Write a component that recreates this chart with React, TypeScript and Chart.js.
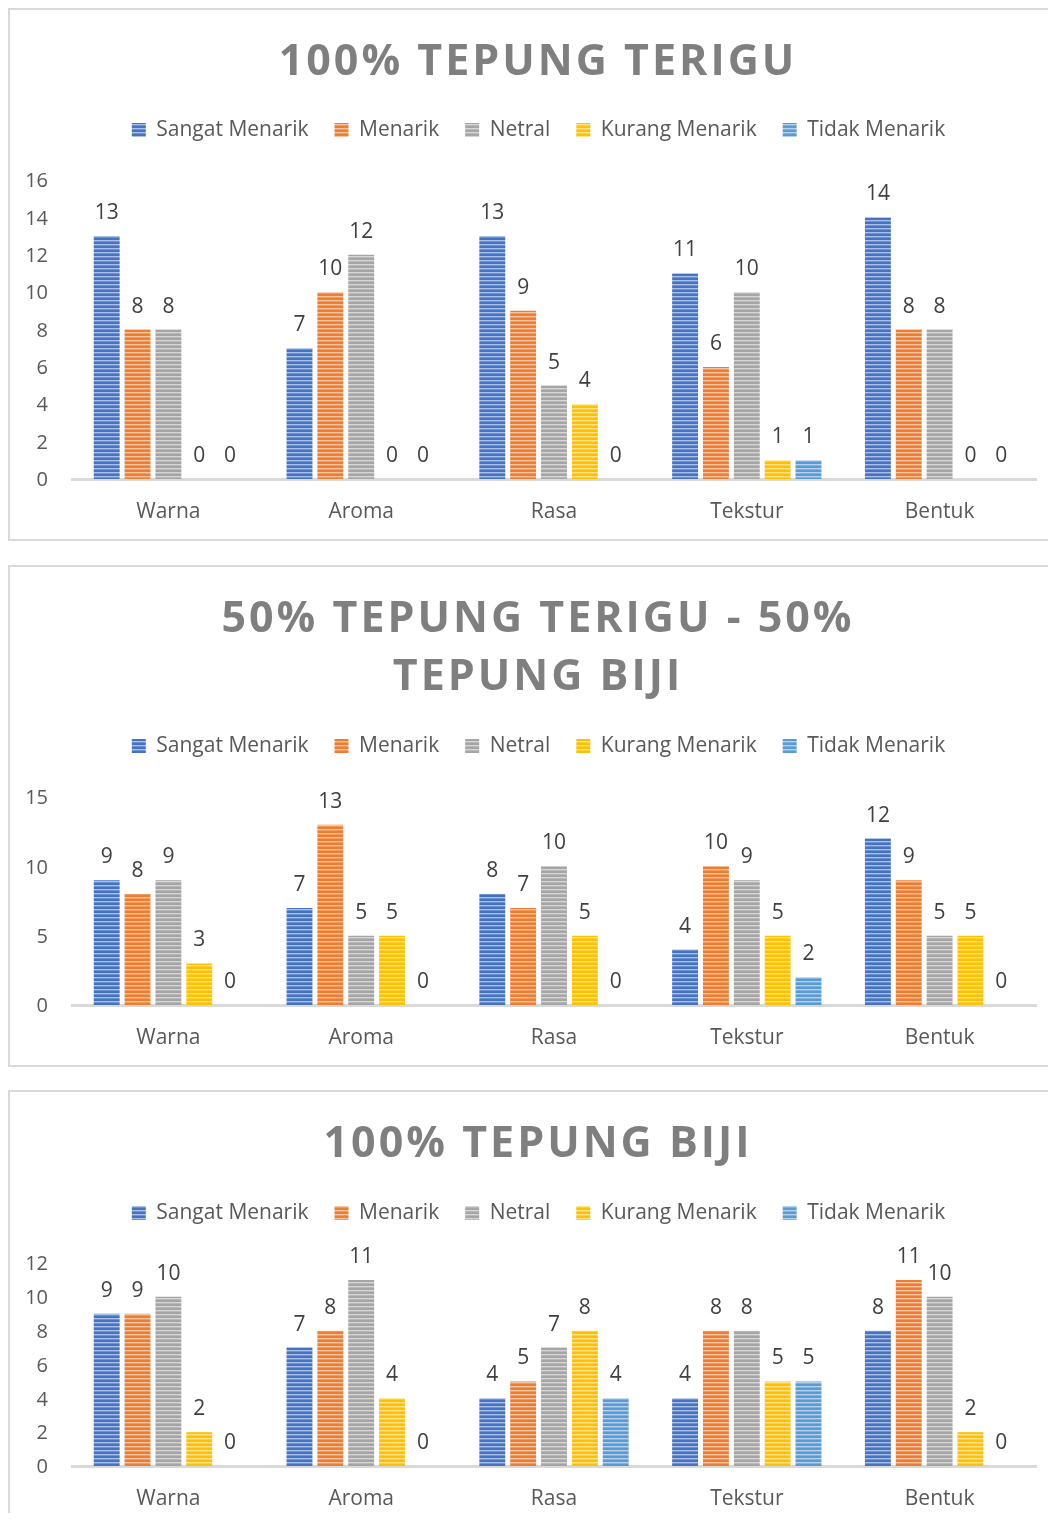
import React, { useEffect, useRef } from 'react';
import { Chart, registerables } from 'chart.js';

Chart.register(...registerables);

const FONT = "'Open Sans', sans-serif";

const CATEGORIES = ['Warna', 'Aroma', 'Rasa', 'Tekstur', 'Bentuk'];
const SERIES_NAMES = ['Sangat Menarik', 'Menarik', 'Netral', 'Kurang Menarik', 'Tidak Menarik'];
const SERIES_COLORS = ['#4472C4', '#ED7D31', '#A5A5A5', '#FFC000', '#5B9BD5'];

// Chart 1: 100% Tepung Terigu
const TITLE_1 = ['100% TEPUNG TERIGU'];
const T1_SANGAT = [13, 7, 13, 11, 14];
const T1_MENARIK = [8, 10, 9, 6, 8];
const T1_NETRAL = [8, 12, 5, 10, 8];
const T1_KURANG = [0, 0, 4, 1, 0];
const T1_TIDAK = [0, 0, 0, 1, 0];
const T1_Y_MAX = 16;
const T1_Y_STEP = 2;

// Chart 2: 50% Tepung Terigu - 50% Tepung Biji
const TITLE_2 = ['50% TEPUNG TERIGU - 50%', 'TEPUNG BIJI'];
const T2_SANGAT = [9, 7, 8, 4, 12];
const T2_MENARIK = [8, 13, 7, 10, 9];
const T2_NETRAL = [9, 5, 10, 9, 5];
const T2_KURANG = [3, 5, 5, 5, 5];
const T2_TIDAK = [0, 0, 0, 2, 0];
const T2_Y_MAX = 15;
const T2_Y_STEP = 5;

// Chart 3: 100% Tepung Biji
const TITLE_3 = ['100% TEPUNG BIJI'];
const T3_SANGAT = [9, 7, 4, 4, 8];
const T3_MENARIK = [9, 8, 5, 8, 11];
const T3_NETRAL = [10, 11, 7, 8, 10];
const T3_KURANG = [2, 4, 8, 5, 2];
const T3_TIDAK = [0, 0, 4, 5, 0];
const T3_Y_MAX = 12;
const T3_Y_STEP = 2;

function stripePattern(color: string): CanvasPattern | string {
  const c = document.createElement('canvas');
  c.width = 4;
  c.height = 4;
  const x = c.getContext('2d');
  if (!x) return color;
  x.fillStyle = color;
  x.fillRect(0, 0, 4, 4);
  x.fillStyle = 'rgba(255,255,255,0.55)';
  x.fillRect(0, 2, 4, 1);
  x.fillStyle = 'rgba(255,255,255,0.22)';
  x.fillRect(0, 3, 4, 1);
  return x.createPattern(c, 'repeat') || color;
}

const valueLabels = {
  id: 'valueLabels',
  afterDatasetsDraw(chart: any) {
    const ctx = chart.ctx;
    ctx.save();
    ctx.font = `21px ${FONT}`;
    ctx.fillStyle = '#404040';
    ctx.textAlign = 'center';
    ctx.textBaseline = 'alphabetic';
    chart.data.datasets.forEach((ds: any, i: number) => {
      const meta = chart.getDatasetMeta(i);
      meta.data.forEach((bar: any, j: number) => {
        ctx.fillText(String(ds.data[j]), bar.x, bar.y - 17);
      });
    });
    ctx.restore();
  },
};

// centre the legend over the same span as the reference (slightly right of canvas centre)
const legendShift = {
  id: 'legendShift',
  afterLayout(chart: any) {
    const l = chart.legend;
    if (l) {
      l.left += 15.5;
      l.right += 15.5;
    }
  },
};

interface Cfg {
  series: number[][];
  yMax: number;
  yStep: number;
  padTop: number;
  spacer: number;
}

function buildConfig(cfg: Cfg): any {
  return {
    type: 'bar',
    data: {
      labels: CATEGORIES,
      datasets: cfg.series.map((d, i) => ({
        label: SERIES_NAMES[i],
        data: d,
        backgroundColor: stripePattern(SERIES_COLORS[i]),
        borderWidth: 0,
        categoryPercentage: 0.8,
        barPercentage: 0.84,
      })),
    },
    options: {
      animation: false,
      responsive: false,
      layout: { padding: { top: cfg.padTop, right: 30, bottom: 0, left: 0 } },
      plugins: {
        legend: {
          position: 'top',
          labels: {
            boxWidth: 14,
            boxHeight: 14,
            padding: 26,
            color: '#595959',
            font: { family: FONT, size: 21 },
          },
        },
        subtitle: {
          display: true,
          text: '',
          weight: 500,
          font: { size: 10, lineHeight: 1 },
          padding: { top: 0, bottom: cfg.spacer },
        },
        title: { display: false },
        tooltip: { enabled: false },
      },
      scales: {
        x: {
          grid: { display: false, drawTicks: false },
          border: { display: true, color: '#d9d9d9', width: 3 },
          ticks: { color: '#595959', font: { family: FONT, size: 21 }, padding: 20 },
          afterFit: (s: any) => {
            s.height = 60;
          },
        },
        y: {
          min: 0,
          max: cfg.yMax,
          ticks: {
            stepSize: cfg.yStep,
            color: '#595959',
            font: { family: FONT, size: 20 },
            padding: 24,
            labelOffset: 1.5,
          },
          grid: { display: false, drawTicks: false },
          border: { display: false },
          afterFit: (s: any) => {
            s.width = 62;
          },
        },
      },
    },
    plugins: [valueLabels, legendShift],
  };
}

function ChartBox({ title, cfg, height, marginTop }: { title: string[]; cfg: Cfg; height: number; marginTop: number }) {
  const ref = useRef<HTMLCanvasElement>(null);
  useEffect(() => {
    if (!ref.current) return;
    const chart = new Chart(ref.current, buildConfig(cfg));
    return () => chart.destroy();
  }, []);
  return (
    <div
      style={{
        position: 'relative',
        width: 1056,
        height,
        border: '2px solid #d9d9d9',
        marginTop,
        background: '#fff',
      }}
    >
      <canvas ref={ref} width={1056} height={height} style={{ display: 'block' }} />
      <div
        style={{
          position: 'absolute',
          left: 0,
          right: 0,
          top: 20,
          textAlign: 'center',
          fontFamily: FONT,
          fontWeight: 700,
          fontSize: 43,
          lineHeight: '58px',
          letterSpacing: '3px',
          color: '#7f7f7f',
        }}
      >
        {title.map((l, i) => (
          <div key={i}>{l}</div>
        ))}
      </div>
    </div>
  );
}

export default function App() {
  return (
    <div style={{ width: 1048, height: 1505, overflow: 'hidden' }}>
      <ChartBox
        title={TITLE_1}
        height={529}
        marginTop={0}
        cfg={{ series: [T1_SANGAT, T1_MENARIK, T1_NETRAL, T1_KURANG, T1_TIDAK], yMax: T1_Y_MAX, yStep: T1_Y_STEP, padTop: 83.5, spacer: 19.5 }}
      />
      <ChartBox
        title={TITLE_2}
        height={498}
        marginTop={24}
        cfg={{ series: [T2_SANGAT, T2_MENARIK, T2_NETRAL, T2_KURANG, T2_TIDAK], yMax: T2_Y_MAX, yStep: T2_Y_STEP, padTop: 142.5, spacer: 20.5 }}
      />
      <ChartBox
        title={TITLE_3}
        height={434}
        marginTop={23}
        cfg={{ series: [T3_SANGAT, T3_MENARIK, T3_NETRAL, T3_KURANG, T3_TIDAK], yMax: T3_Y_MAX, yStep: T3_Y_STEP, padTop: 84.5, spacer: 19.5 }}
      />
    </div>
  );
}
